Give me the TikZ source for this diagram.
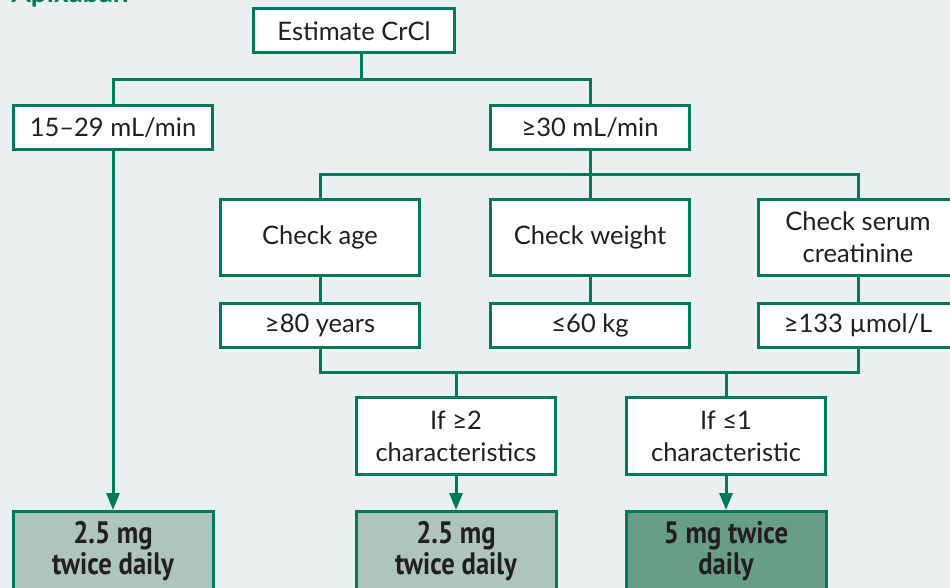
\documentclass[tikz,border=0pt]{standalone}
\usepackage{fontspec}
\setmainfont{Lato}
\newfontfamily\condbold[FakeStretch=0.86]{PT Sans Bold}
\usetikzlibrary{arrows.meta}
\definecolor{bggrey}{RGB}{233,240,239}
\definecolor{boxgreen}{RGB}{0,122,90}
\definecolor{lightfill}{RGB}{173,197,186}
\definecolor{darkfill}{RGB}{104,158,136}
\definecolor{txt}{RGB}{35,31,32}
\tikzset{
  box/.style={draw=boxgreen, line width=3pt, fill=white, text=txt, align=center,
    inner sep=0pt, font=\fontsize{25.5}{32}\selectfont},
  wide/.style={minimum width=199pt},
  low/.style={minimum height=44pt},
  tall/.style={minimum height=76pt},
  dose/.style={draw=boxgreen, line width=3pt, text=txt, align=center, inner sep=0pt,
    minimum width=200pt, minimum height=79pt, font=\condbold\fontsize{31}{31}\selectfont},
  link/.style={draw=boxgreen, line width=3pt},
  arrowlink/.style={link, -{Triangle[width=13pt,length=17pt]}},
}
\begin{document}
\begin{tikzpicture}[x=1pt,y=-1pt]
\useasboundingbox (0,0) rectangle (950,588);
\clip (0,0) rectangle (950,588);
\fill[bggrey] (0,0) rectangle (950,588);
\node[anchor=base west, text=boxgreen, font=\bfseries\fontsize{28}{30}\selectfont] (title) at (8,3) {Apixaban};
% nodes
\node[box, minimum width=201pt, low] (est) at (354,31) {Estimate CrCl};
\node[box, wide, low] (low) at (113,127.5) {15–29 mL/min};
\node[box, wide, low] (high) at (590,127.5) {≥30 mL/min};
\node[box, wide, tall] (age) at (320,237.5) {Check age};
\node[box, wide, tall] (wt) at (590,237.5) {Check weight};
\node[box, wide, tall] (scr) at (858,237.5) {Check serum\\creatinine};
\node[box, wide, low] (agev) at (320,325.5) {≥80 years};
\node[box, wide, low] (wtv) at (590,325.5) {≤60 kg};
\node[box, wide, low] (scrv) at (858,325.5) {≥133 µmol/L};
\node[box, wide, minimum height=77pt] (two) at (456,436) {If ≥2\\characteristics};
\node[box, wide, minimum height=77pt] (one) at (726,436) {If ≤1\\characteristic};
\node[dose, fill=lightfill] (d1) at (113,551) {2.5 mg\\twice daily};
\node[dose, fill=lightfill] (d2) at (456,551) {2.5 mg\\twice daily};
\node[dose, fill=darkfill] (d3) at (726,551) {5 mg twice\\daily};
% connectors
\coordinate (j1) at (361,80);
\coordinate (j2) at (590,175);
\coordinate (j3) at (590,372);
\draw[link] ([xshift=7pt]est.south) -- (j1);
\draw[link] (low.north) |- (j1) -| (high.north);
\draw[link] (high.south) -- (j2);
\draw[link] (age.north) |- (j2) -| (scr.north);
\draw[link] (wt.north) -- (j2);
\draw[link] (age.south) -- (agev.north);
\draw[link] (wt.south) -- (wtv.north);
\draw[link] (scr.south) -- (scrv.north);
\draw[link] (agev.south) |- (j3) -| (scrv.south);
\draw[link] (two.north) -- (two.north |- j3);
\draw[link] (one.north) -- (one.north |- j3);
\draw[arrowlink] (low.south) -- (d1.north);
\draw[arrowlink] (two.south) -- (d2.north);
\draw[arrowlink] (one.south) -- (d3.north);
\end{tikzpicture}
\end{document}
